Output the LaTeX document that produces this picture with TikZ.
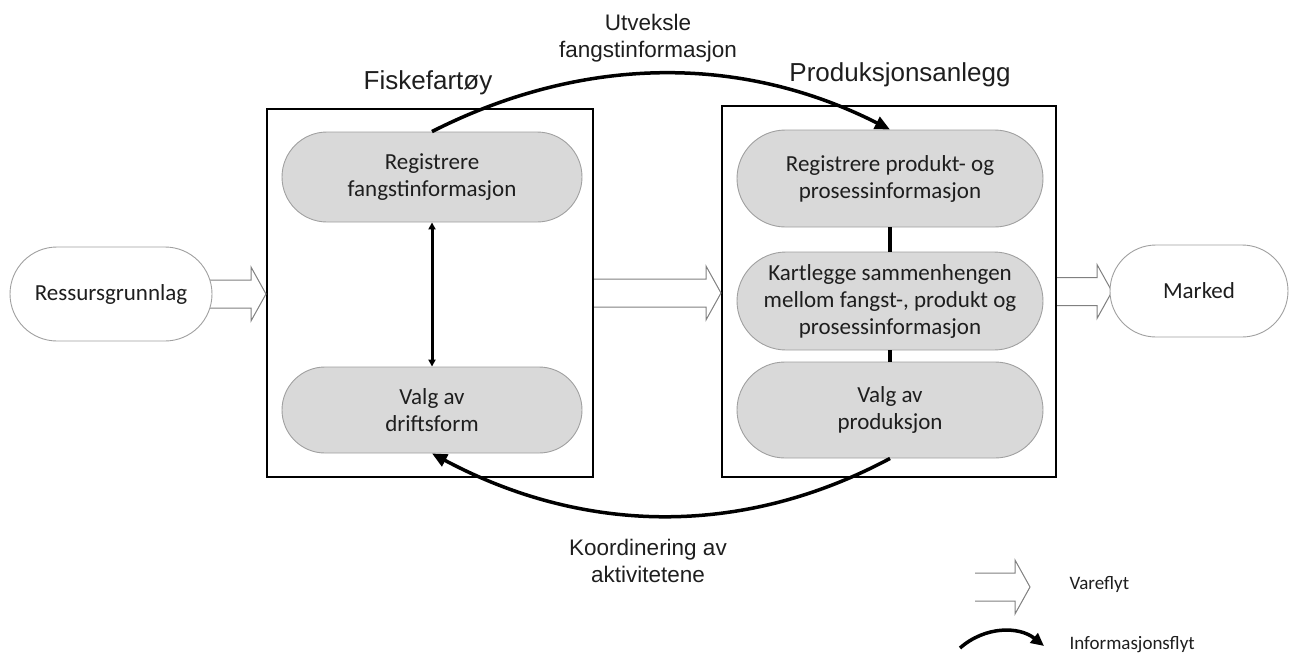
\documentclass[tikz,border=0pt]{standalone}
\usepackage{fontspec}
\setmainfont{Carlito}
\newfontfamily\arialfont{Liberation Sans}
\usetikzlibrary{calc,shapes.misc,arrows.meta}
\definecolor{pillfill}{HTML}{D9D9D9}
\definecolor{pillline}{HTML}{A0A0A0}
\definecolor{hollowline}{HTML}{808080}
\definecolor{txt}{HTML}{1E1E1E}
\tikzset{
  pill/.style={rounded rectangle, draw=pillline, fill=pillfill, line width=0.9pt,
    inner sep=0pt, align=center, text=txt, font=\fontsize{23}{27}\selectfont},
  endpill/.style={rounded rectangle, draw=pillline, fill=white, line width=0.9pt,
    inner sep=0pt, align=center, text=txt, font=\fontsize{23}{27}\selectfont},
  framebox/.style={draw=black, line width=2pt, inner sep=0pt},
  title/.style={font=\arialfont\fontsize{26}{30}\selectfont, text=txt, align=center},
  flowlabel/.style={font=\arialfont\fontsize{22.5}{27}\selectfont, text=txt, align=center},
  legendtext/.style={font=\fontsize{19}{22}\selectfont, text=txt, anchor=west},
  info/.style={line width=3.5pt, -{Triangle[length=15pt,width=13pt]}},
  link/.style={line width=4pt},
  hollow/.style={draw=hollowline, fill=white, line width=1pt, to path={
    let \p1=(\tikztostart), \p2=(\tikztotarget) in
    (\x1,\y1+14pt) -- (\x2-15pt,\y1+14pt) -- (\x2-15pt,\y1+27pt) -- (\x2,\y1)
    -- (\x2-15pt,\y1-27pt) -- (\x2-15pt,\y1-14pt) -- (\x1,\y1-14pt)}}
}
\begin{document}
\begin{tikzpicture}[x=1pt,y=-1pt]
\useasboundingbox (0,0) rectangle (1291,653);
% frames
\node[framebox, minimum width=326pt, minimum height=368pt] (lbox) at (430,293) {};
\node[framebox, minimum width=334pt, minimum height=371pt] (rbox) at (889,291.5) {};
% hollow arrows (drawn under the end pills)
\coordinate (resin) at (200,294);
\coordinate (markin) at (1112,292);
\draw[hollow] (resin) to (lbox.west);
\draw[hollow] (lbox.east) to (rbox.west);
\draw[hollow] (rbox.east) to (markin);
% end pills
\node[endpill, minimum width=202pt, minimum height=94pt] (res) at (111,294) {Ressursgrunnlag};
\node[endpill, minimum width=178pt, minimum height=92pt] (mark) at (1199,291) {Marked};
% inner pills
\node[pill, minimum width=300pt, minimum height=90pt] (p1) at (432,177) {Registrere\\fangstinformasjon};
\node[pill, minimum width=300pt, minimum height=86pt] (p2) at (432,410) {Valg av\\driftsform};
\node[pill, minimum width=306pt, minimum height=97pt] (q1) at (890,178.5) {Registrere produkt- og\\prosessinformasjon};
\node[pill, minimum width=306pt, minimum height=98pt] (q2) at (890,301) {Kartlegge sammenhengen\\mellom fangst-, produkt og\\prosessinformasjon};
\node[pill, minimum width=306pt, minimum height=96pt] (q3) at (890,410) {Valg av\\produksjon};
% connectors inside frames
\draw[line width=3pt, {Triangle[length=7pt,width=7pt]}-{Triangle[length=7pt,width=7pt]}] (p1.south) -- (p2.north);
\draw[link] (q1.south) -- (q2.north);
\draw[link] (q2.south) -- (q3.north);
% information flows
\draw[info] (p1.north) .. controls +(150,-76) and +(-150,-76) .. (q1.north);
\draw[info] (q3.south) .. controls +(-150,80) and +(150,80) .. (p2.south);
% titles and labels
\node[title] (t1) at (428,83) {Fiskefartøy};
\node[title] (t2) at (900,75) {Produksjonsanlegg};
\node[flowlabel] (l1) at (648,38) {Utveksle\\fangstinformasjon};
\node[flowlabel] (l2) at (648,561) {Koordinering av\\aktivitetene};
% legend
\coordinate (lga) at (975,587);
\coordinate (lgb) at (1030,587);
\draw[hollow] (lga) to (lgb);
\node[legendtext] (lt1) at (1066,584) {Vareflyt};
\coordinate (lgc) at (960,648);
\coordinate (lgd) at (1044,646);
\draw[info, -{Triangle[length=13pt,width=12pt]}] (lgc) .. controls +(25,-22) and +(-25,-20) .. (lgd);
\node[legendtext] (lt2) at (1066,645) {Informasjonsflyt};
\end{tikzpicture}
\end{document}
